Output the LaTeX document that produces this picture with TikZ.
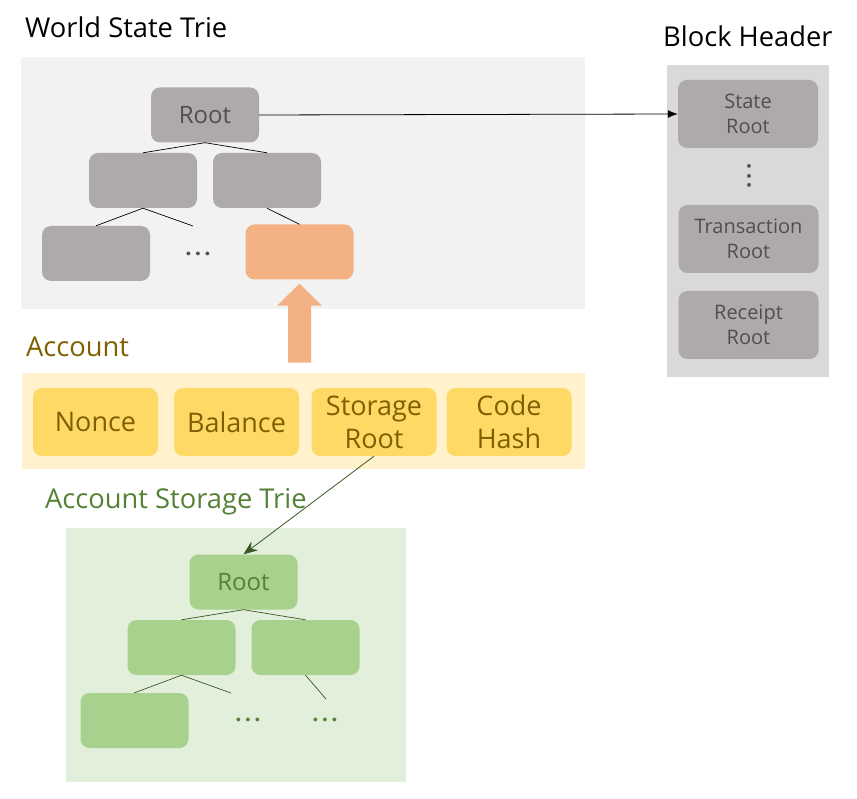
\documentclass[tikz,border=0pt]{standalone}
\usepackage{fontspec}
\setmainfont{Open Sans}
\usetikzlibrary{arrows.meta,positioning,calc}
\definecolor{greyfill}{HTML}{AEAAAA}
\definecolor{greytext}{HTML}{4F4F4F}
\definecolor{worldbg}{HTML}{F2F2F2}
\definecolor{headerbg}{HTML}{D9D9D9}
\definecolor{leaforange}{HTML}{F4B183}
\definecolor{accbg}{HTML}{FFF2CC}
\definecolor{accfill}{HTML}{FFD966}
\definecolor{acctext}{HTML}{7F6000}
\definecolor{greenbg}{HTML}{E2EFDA}
\definecolor{greenfill}{HTML}{A9D18E}
\definecolor{greentext}{HTML}{548235}
\definecolor{greenline}{HTML}{385723}
\tikzset{
      triebox/.style   = {rounded corners=9pt, minimum width=108pt, minimum height=55pt, inner sep=0pt, align=center},
      greybox/.style   = {triebox, fill=greyfill, text=greytext, font=\fontsize{24}{28}\selectfont},
      headerbox/.style = {triebox, fill=greyfill, text=greytext, minimum width=140pt, minimum height=68pt, font=\fontsize{20}{25}\selectfont},
      fieldbox/.style  = {triebox, fill=accfill, text=acctext, minimum width=125pt, minimum height=68pt, font=\fontsize{27}{33}\selectfont},
      greenbox/.style  = {triebox, fill=greenfill, text=greentext, font=\fontsize{24}{28}\selectfont},
      title/.style     = {anchor=base west, inner sep=0pt, font=\fontsize{27.3}{31}\selectfont},
      dotsnode/.style  = {inner sep=0pt, font=\fontsize{22}{24}\selectfont\bfseries},
      trieedge/.style  = {black, line width=0.7pt},
      greenedge/.style = {greenline, line width=0.7pt},
      rootedge/.style  = {black, line width=0.8pt, -{Latex[length=10pt,width=8pt]}},
      storeedge/.style = {greenline, line width=0.8pt, -{Stealth[length=14pt,width=11pt]}},
    }
\newcommand\dotrow{.\hspace{0.15em}.\hspace{0.15em}.}

\begin{document}
\begin{tikzpicture}[x=1pt,y=-1pt]
        \useasboundingbox (0,0) rectangle (857,799);
        % backgrounds
        \fill[worldbg] (21,57) rectangle (585,309);
        \fill[headerbg] (667,65) rectangle (829,377);
        \fill[accbg] (22,373) rectangle (585,469);
        \fill[greenbg] (66,528) rectangle (406,782);

        \node[title] (worldlbl) at (25,38) {World State Trie};
        \node[title] (headerlbl) at (663,47) {Block Header};
        \node[title, text=acctext] (acclbl) at (26,357) {Account};
        \node[title, text=greentext] (storelbl) at (45,508) {Account Storage Trie};

        % world state trie
        \node[greybox] (wroot) at (205,115) {Root};
        \node[greybox] (wl) at (143,180.5) {};
        \node[greybox] (wr) at (267,180.5) {};
        \node[greybox] (wll) at (96,253.5) {};
        \node[triebox, fill=leaforange] (wacc) at (299.5,252) {};
        \node[dotsnode, text=greytext] (wdots) at (198,254) {\dotrow};
        \coordinate (wlr) at (193,226);

        \draw[trieedge] (wroot.south) -- (wl.north);
        \draw[trieedge] (wroot.south) -- (wr.north);
        \draw[trieedge] (wl.south) -- (wll.north);
        \draw[trieedge] (wl.south) -- (wlr);
        \draw[trieedge] (wr.south) -- (wacc.north);

        % block header
        \node[headerbox] (stateroot) at (748,114) {State\\Root};
        \node[dotsnode, rotate=90, text=greytext] (hdots) at (749,176) {\dotrow};
        \node[headerbox] (txroot) at (748.5,239) {Transaction\\Root};
        \node[headerbox] (rcroot) at (748.5,325) {Receipt\\Root};

        \draw[rootedge] (wroot.east) -- (stateroot.west);

        % account
        \node[fieldbox] (nonce) at (95.5,422) {Nonce};
        \node[fieldbox] (balance) at (236.5,422) {Balance};
        \node[fieldbox] (storage) at (374,422) {Storage\\Root};
        \node[fieldbox] (codehash) at (509,422) {Code\\Hash};

        \coordinate (tip) at ($(wacc.south)+(0,4)$);
        \fill[leaforange] (tip) -- ++(22.5,22) -- ++(-11,0) -- ++(0,57) -- ++(-23,0)
              -- ++(0,-57) -- ++(-11,0) -- cycle;

        % account storage trie
        \node[greenbox] (groot) at (243.5,582) {Root};
        \node[greenbox] (gl) at (181.5,647.5) {};
        \node[greenbox] (gr) at (305.5,647.5) {};
        \node[greenbox] (gll) at (134.5,720.5) {};
        \node[dotsnode, text=greentext] (gdots) at (248,720) {\dotrow};
        \node[dotsnode, text=greentext] (gdotsb) at (325,720) {\dotrow};
        \coordinate (glr) at (231,693);
        \coordinate (grr) at (326,699);

        \draw[greenedge] (groot.south) -- (gl.north);
        \draw[greenedge] (groot.south) -- (gr.north);
        \draw[greenedge] (gl.south) -- (gll.north);
        \draw[greenedge] (gl.south) -- (glr);
        \draw[greenedge] (gr.south) -- (grr);

        \draw[storeedge] (storage.south) -- (groot.north);
\end{tikzpicture}
\end{document}
